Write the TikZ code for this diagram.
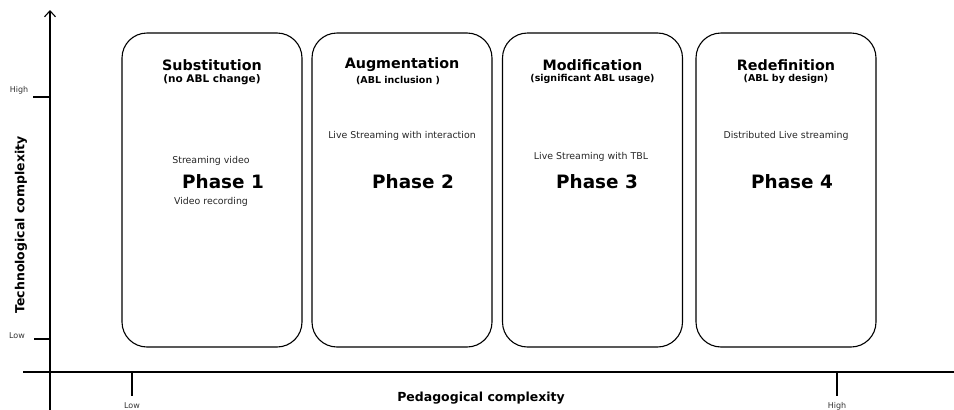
\documentclass[tikz,border=0pt]{standalone}
\usepackage{fontspec}
\setmainfont{DejaVu Sans}
\usetikzlibrary{arrows.meta, positioning}

\begin{document}
\begin{tikzpicture}[
    x=1pt, y=1pt,
    phasebox/.style={rectangle, draw, line width=1.1pt, rounded corners=25pt, minimum width=180pt, minimum height=314pt},
    title/.style={inner sep=1pt, font=\fontsize{14.3}{15}\selectfont\bfseries},
    subtitle/.style={inner sep=0.5pt, font=\fontsize{9.5}{10}\selectfont\bfseries},
    item/.style={inner sep=1pt, font=\fontsize{9.4}{10}\selectfont, text=black!85},
    phase/.style={inner sep=1pt, font=\fontsize{18.4}{19}\selectfont\bfseries},
    axislabel/.style={inner sep=1pt, font=\fontsize{12.5}{13}\selectfont\bfseries},
    ticklabel/.style={inner sep=1pt, font=\fontsize{8}{9}\selectfont, text=black!80},
    axis/.style={line width=1.1pt},
    arrow/.style={-{Straight Barb[length=6pt, width=11pt, line width=1.1pt]}, axis}
    ]
\useasboundingbox (0,0) rectangle (954,-410);

% Axes
\coordinate (yorig) at (50,-410);
\coordinate (ytop) at (50,-10);
\coordinate (xleft) at (23,-372);
\coordinate (xright) at (954,-372);
\draw[arrow] (yorig) -- (ytop);
\draw[axis] (xleft) -- (xright);

% Ticks
\coordinate (yhigh) at (50,-97);
\coordinate (yhighend) at (33,-97);
\coordinate (ylow) at (50,-339);
\coordinate (ylowend) at (34,-339);
\coordinate (xlow) at (132,-372);
\coordinate (xlowend) at (132,-396);
\coordinate (xhigh) at (837,-372);
\coordinate (xhighend) at (837,-396);
\draw[axis] (yhigh) -- (yhighend);
\draw[axis] (ylow) -- (ylowend);
\draw[axis] (xlow) -- (xlowend);
\draw[axis] (xhigh) -- (xhighend);

\node[ticklabel] (yhighlbl) at (19,-90) {High};
\node[ticklabel] (ylowlbl) at (17,-336) {Low};
\node[ticklabel] (xlowlbl) at (132,-406) {Low};
\node[ticklabel] (xhighlbl) at (837,-406) {High};

\node[axislabel] (xlbl) at (481,-398) {Pedagogical complexity};
\node[axislabel, rotate=90] (ylbl) at (21,-225) {Technological complexity};

% Phase boxes
\node[phasebox] (box1) at (212,-190) {};
\node[phasebox] (box2) at (402,-190) {};
\node[phasebox] (box3) at (592.5,-190) {};
\node[phasebox] (box4) at (786,-190) {};

% Titles
\node[title] (title1) at (212,-65) {Substitution};
\node[subtitle, font=\fontsize{10.5}{11}\selectfont\bfseries] (sub1) [below=2pt of title1] {(no ABL change)};
\node[title] (title2) at (402,-65) {Augmentation};
\node[subtitle] (sub2) [below=2pt of title2, xshift=-4pt] {(ABL inclusion )};
\node[title] (title3) at (592.5,-65) {Modification};
\node[subtitle] (sub3) [below=2pt of title3] {(significant ABL usage)};
\node[title] (title4) at (786,-65) {Redefinition};
\node[subtitle] (sub4) [below=2pt of title4] {(ABL by design)};

% Contents
\node[item] (stream1) at (211,-161) {Streaming video};
\node[phase] (phase1) at (223,-182) {Phase 1};
\node[item] (record1) at (211,-202) {Video recording};

\node[item] (stream2) at (402,-136) {Live Streaming with interaction};
\node[phase] (phase2) at (413,-182) {Phase 2};

\node[item] (stream3) at (591,-157) {Live Streaming with TBL};
\node[phase] (phase3) at (597,-182) {Phase 3};

\node[item] (stream4) at (786,-136) {Distributed Live streaming};
\node[phase] (phase4) at (792,-182) {Phase 4};

\end{tikzpicture}
\end{document}
